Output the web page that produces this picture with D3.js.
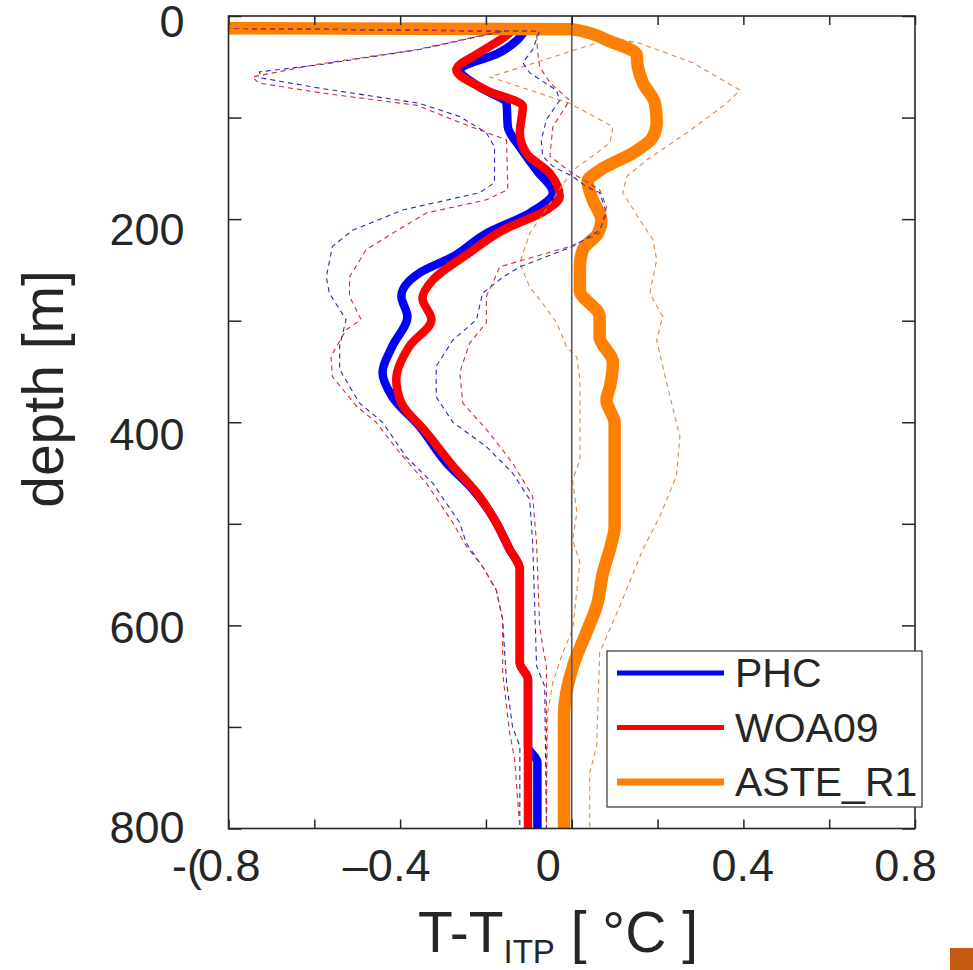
<!DOCTYPE html>
<html>
<head>
<meta charset="utf-8">
<script src="https://cdn.jsdelivr.net/npm/d3@7"></script>
<style>
  body { margin: 0; background: #fff; }
  text { font-family: "Liberation Sans", Arial, Helvetica, sans-serif; fill: #262626; }
</style>
</head>
<body>
<svg id="chart"></svg>
<script>
// Profiles as [depth (m), T - T_ITP (degC)]
const phcMean = [[12,-0.85],[14,-0.11],[19,-0.117],[36,-0.168],[53,-0.261],[70,-0.215],[86,-0.152],[109,-0.149],[129,-0.121],[152,-0.082],[174,-0.044],[194,-0.098],[214,-0.199],[237,-0.277],[253,-0.355],[276,-0.397],[296,-0.383],[325,-0.418],[351,-0.441],[375,-0.418],[404,-0.355],[440,-0.292],[466,-0.231],[493,-0.184],[525,-0.145],[545,-0.121],[637,-0.121],[653,-0.102],[719,-0.102],[735,-0.08],[800,-0.08]];
const woaMean = [[12,-0.85],[14,-0.14],[19,-0.152],[36,-0.215],[53,-0.269],[73,-0.199],[89,-0.114],[115,-0.121],[135,-0.106],[155,-0.051],[178,-0.028],[191,-0.059],[211,-0.161],[233,-0.238],[260,-0.324],[278,-0.348],[299,-0.327],[325,-0.378],[358,-0.409],[381,-0.397],[410,-0.339],[443,-0.277],[473,-0.215],[499,-0.176],[525,-0.145],[545,-0.121],[637,-0.121],[653,-0.102],[800,-0.102]];
const asteMean = [[12,-0.85],[13,0.0],[25,0.089],[38,0.151],[50,0.154],[66,0.166],[86,0.194],[105,0.198],[119,0.189],[135,0.142],[152,0.065],[163,0.037],[181,0.049],[201,0.069],[214,0.061],[230,0.026],[247,0.019],[270,0.019],[296,0.065],[316,0.065],[341,0.096],[365,0.089],[378,0.081],[401,0.1],[503,0.1],[520,0.092],[548,0.073],[581,0.058],[607,0.034],[640,0.003],[689,-0.018],[800,-0.018]];

// spread envelopes (dashed)
const phcLow = [[12,-0.85],[15,-0.161],[33,-0.355],[48,-0.588],[55,-0.728],[61,-0.724],[71,-0.588],[86,-0.355],[99,-0.261],[115,-0.199],[129,-0.18],[164,-0.18],[174,-0.215],[191,-0.394],[211,-0.511],[227,-0.558],[257,-0.572],[273,-0.565],[299,-0.526],[325,-0.541],[348,-0.541],[381,-0.495],[400,-0.441],[434,-0.386],[460,-0.324],[499,-0.261],[519,-0.246],[542,-0.208],[565,-0.176],[594,-0.161],[656,-0.152],[700,-0.138],[719,-0.121],[800,-0.121]];
const phcHigh = [[12,-0.85],[15,-0.075],[33,-0.091],[46,-0.114],[56,-0.098],[73,-0.036],[83,-0.028],[102,-0.059],[122,-0.071],[138,-0.068],[148,-0.044],[158,0.002],[168,0.034],[174,0.065],[194,0.081],[211,0.065],[227,0.002],[247,-0.121],[257,-0.16],[273,-0.208],[299,-0.222],[319,-0.277],[345,-0.316],[375,-0.316],[400,-0.277],[424,-0.199],[450,-0.138],[476,-0.098],[519,-0.091],[640,-0.082],[660,-0.063],[800,-0.059]];
const woaLow = [[12,-0.85],[15,-0.165],[33,-0.36],[48,-0.6],[60,-0.744],[66,-0.73],[76,-0.58],[88,-0.36],[105,-0.26],[122,-0.152],[171,-0.149],[181,-0.199],[194,-0.339],[214,-0.418],[230,-0.479],[257,-0.518],[276,-0.518],[299,-0.491],[309,-0.526],[335,-0.561],[355,-0.558],[384,-0.502],[400,-0.456],[430,-0.401],[460,-0.339],[499,-0.277],[522,-0.246],[542,-0.208],[565,-0.176],[594,-0.161],[647,-0.161],[705,-0.145],[732,-0.133],[800,-0.121]];
const woaHigh = [[12,-0.85],[15,-0.082],[33,-0.08],[50,-0.075],[66,-0.05],[83,-0.005],[109,-0.044],[138,-0.051],[155,0.002],[171,0.065],[188,0.081],[214,0.065],[227,-0.005],[247,-0.168],[263,-0.184],[276,-0.199],[302,-0.199],[322,-0.238],[351,-0.261],[381,-0.254],[407,-0.199],[440,-0.138],[473,-0.091],[519,-0.082],[600,-0.075],[620,-0.068],[640,-0.059],[800,-0.059]];
const asteLow = [[12,-0.85],[13,0.0],[25,0.07],[60,-0.19],[86,-0.005],[109,0.096],[125,0.089],[135,0.058],[152,0.002],[214,-0.098],[243,-0.121],[267,-0.098],[279,-0.075],[302,-0.035],[326,-0.012],[336,0.012],[358,0.019],[437,0.019],[457,0.002],[489,0.012],[516,0.002],[538,0.019],[604,0.002],[627,-0.021],[656,-0.044],[686,-0.056],[800,-0.059]];
const asteHigh = [[12,-0.85],[13,0.0],[27,0.159],[46,0.282],[73,0.392],[86,0.361],[115,0.268],[142,0.174],[158,0.128],[174,0.119],[201,0.159],[220,0.189],[240,0.198],[273,0.182],[296,0.212],[319,0.198],[361,0.221],[414,0.252],[453,0.244],[493,0.205],[525,0.166],[581,0.112],[627,0.065],[719,0.058],[745,0.042],[800,0.042]];

const legendNames = ["PHC", "WOA09", "ASTE_R1"];
const xTicks = [-0.8, -0.6, -0.4, -0.2, 0, 0.2, 0.4, 0.6, 0.8];
const xTickLabels = { "-0.8": "0.8", "-0.4": "\u20130.4", "0": "0", "0.4": "0.4", "0.8": "0.8" };
const yTicks = [0, 100, 200, 300, 400, 500, 600, 700, 800];
const yTickLabels = { 0: "0", 200: "200", 400: "400", 600: "600", 800: "800" };

const margin = { top: 16, right: 58, bottom: 141.5, left: 228.5 };
const width = 973 - margin.left - margin.right;
const height = 970 - margin.top - margin.bottom;

const svgRoot = d3.select("#chart")
    .attr("width", 973)
    .attr("height", 970);

const svg = svgRoot.append("g")
    .attr("transform", `translate(${margin.left},${margin.top})`);

const x = d3.scaleLinear().domain([-0.8, 0.8]).range([0, width]);
const y = d3.scaleLinear().domain([0, 800]).range([0, height]);

svg.append("clipPath").attr("id", "plot-clip")
    .append("rect").attr("width", width).attr("height", height);

const line = d3.line()
    .x(d => x(d[1]))
    .y(d => y(d[0]));

const smoothLine = d3.line()
    .x(d => x(d[1]))
    .y(d => y(d[0]))
    .curve(d3.curveMonotoneY);

const plot = svg.append("g").attr("clip-path", "url(#plot-clip)");

// thick mean profiles
const meanLines = [
    { data: phcMean, color: "#0000ff", w: 8.5 },
    { data: woaMean, color: "#ff0000", w: 8.5 },
    { data: asteMean, color: "#ff8000", w: 12.5 }
];
plot.selectAll(".mean-line")
    .data(meanLines)
    .enter().append("path")
    .attr("class", "mean-line")
    .attr("d", d => smoothLine(d.data))
    .attr("fill", "none")
    .attr("stroke", d => d.color)
    .attr("stroke-width", d => d.w)
    .attr("stroke-linejoin", "round");

// dashed envelopes
const envLines = [
    { data: asteLow, color: "#dd8a40" },
    { data: asteHigh, color: "#dd8a40" },
    { data: phcLow, color: "#2626c8" },
    { data: phcHigh, color: "#2626c8" },
    { data: woaLow, color: "#c83030" },
    { data: woaHigh, color: "#c83030" }
];
plot.selectAll(".env-line")
    .data(envLines)
    .enter().append("path")
    .attr("class", "env-line")
    .attr("d", d => line(d.data))
    .attr("fill", "none")
    .attr("stroke", d => d.color)
    .attr("stroke-width", 1.1)
    .attr("stroke-dasharray", "5,4");

// zero line
svg.append("line")
    .attr("x1", x(0)).attr("x2", x(0))
    .attr("y1", 0).attr("y2", height)
    .attr("stroke", "#5a5a5a")
    .attr("stroke-width", 1.6);

// axes
const xLabelShift = { "-0.4": -14, "0": -24, "0.4": -1, "0.8": -10 };
const yLabelShift = { 0: 6, 200: 11, 400: 13, 600: 3, 800: 0 };

const xAxisB = svg.append("g")
    .attr("transform", `translate(0,${height})`)
    .call(d3.axisBottom(x).tickValues(xTicks).tickSizeInner(-9).tickSizeOuter(0).tickPadding(21)
        .tickFormat(d => xTickLabels[String(d)] || ""));
xAxisB.selectAll("text").attr("dx", d => xLabelShift[String(d)] || 0);

// first label carries a stray "-(" in front of it
const firstLabel = xAxisB.selectAll(".tick")
    .filter(d => d === -0.8)
    .select("text")
    .attr("text-anchor", "end")
    .attr("x", 31.5)
    .attr("dx", 0)
    .text(null);
firstLabel.append("tspan").text("-(");
firstLabel.append("tspan").attr("dx", -4).text(xTickLabels["-0.8"]);

svg.append("g")
    .call(d3.axisTop(x).tickValues(xTicks).tickSizeInner(-9).tickSizeOuter(0).tickFormat(""));

const yAxisL = svg.append("g")
    .call(d3.axisLeft(y).tickValues(yTicks).tickSizeInner(-13).tickSizeOuter(0).tickPadding(44)
        .tickFormat(d => yTickLabels[d] || ""));
yAxisL.selectAll("text").attr("transform", d => `translate(0,${yLabelShift[d] || 0})`);

svg.append("g")
    .attr("transform", `translate(${width},0)`)
    .call(d3.axisRight(y).tickValues(yTicks).tickSizeInner(-13).tickSizeOuter(0).tickFormat(""));

svg.selectAll(".domain").remove();
svg.selectAll(".tick line").attr("stroke", "#262626").attr("stroke-width", 1.5);
svg.selectAll(".tick text")
    .attr("font-size", 45)
    .attr("font-family", "'Liberation Sans', Arial, sans-serif")
    .attr("fill", "#262626");

// frame
svg.append("rect")
    .attr("width", width).attr("height", height)
    .attr("fill", "none")
    .attr("stroke", "#262626")
    .attr("stroke-width", 1.6);

// axis titles
svgRoot.append("text")
    .attr("transform", "translate(63,389) rotate(-90)")
    .attr("text-anchor", "middle")
    .attr("font-size", 57)
    .text("depth [m]");

const xTitle = svgRoot.append("text")
    .attr("x", 418).attr("y", 952)
    .attr("font-size", 57);
xTitle.append("tspan").text("T-T");
xTitle.append("tspan").attr("font-size", 33).attr("dy", 11).text("ITP");
xTitle.append("tspan").attr("dy", -11).text(" [ \u00b0C ]");

// legend
const legend = svgRoot.append("g").attr("transform", "translate(607,651)");
legend.append("rect")
    .attr("width", 315).attr("height", 156)
    .attr("fill", "#fff")
    .attr("stroke", "#333")
    .attr("stroke-width", 1.2);

const legendItems = legend.selectAll(".legend-item")
    .data(meanLines.map((d, i) => ({ name: legendNames[i], color: d.color, w: i === 2 ? 7 : 5 })))
    .enter().append("g")
    .attr("class", "legend-item")
    .attr("transform", (d, i) => `translate(0,${22 + i * 54.5})`);

legendItems.append("line")
    .attr("x1", 10).attr("x2", 117)
    .attr("stroke", d => d.color)
    .attr("stroke-width", d => d.w);

legendItems.append("text")
    .attr("x", 128)
    .attr("y", 14)
    .attr("font-size", 41)
    .attr("fill", "#111")
    .text(d => d.name);

// small corner mark
svgRoot.append("rect")
    .attr("x", 950).attr("y", 948)
    .attr("width", 23).attr("height", 22)
    .attr("fill", "#c55a11");
</script>
</body>
</html>
